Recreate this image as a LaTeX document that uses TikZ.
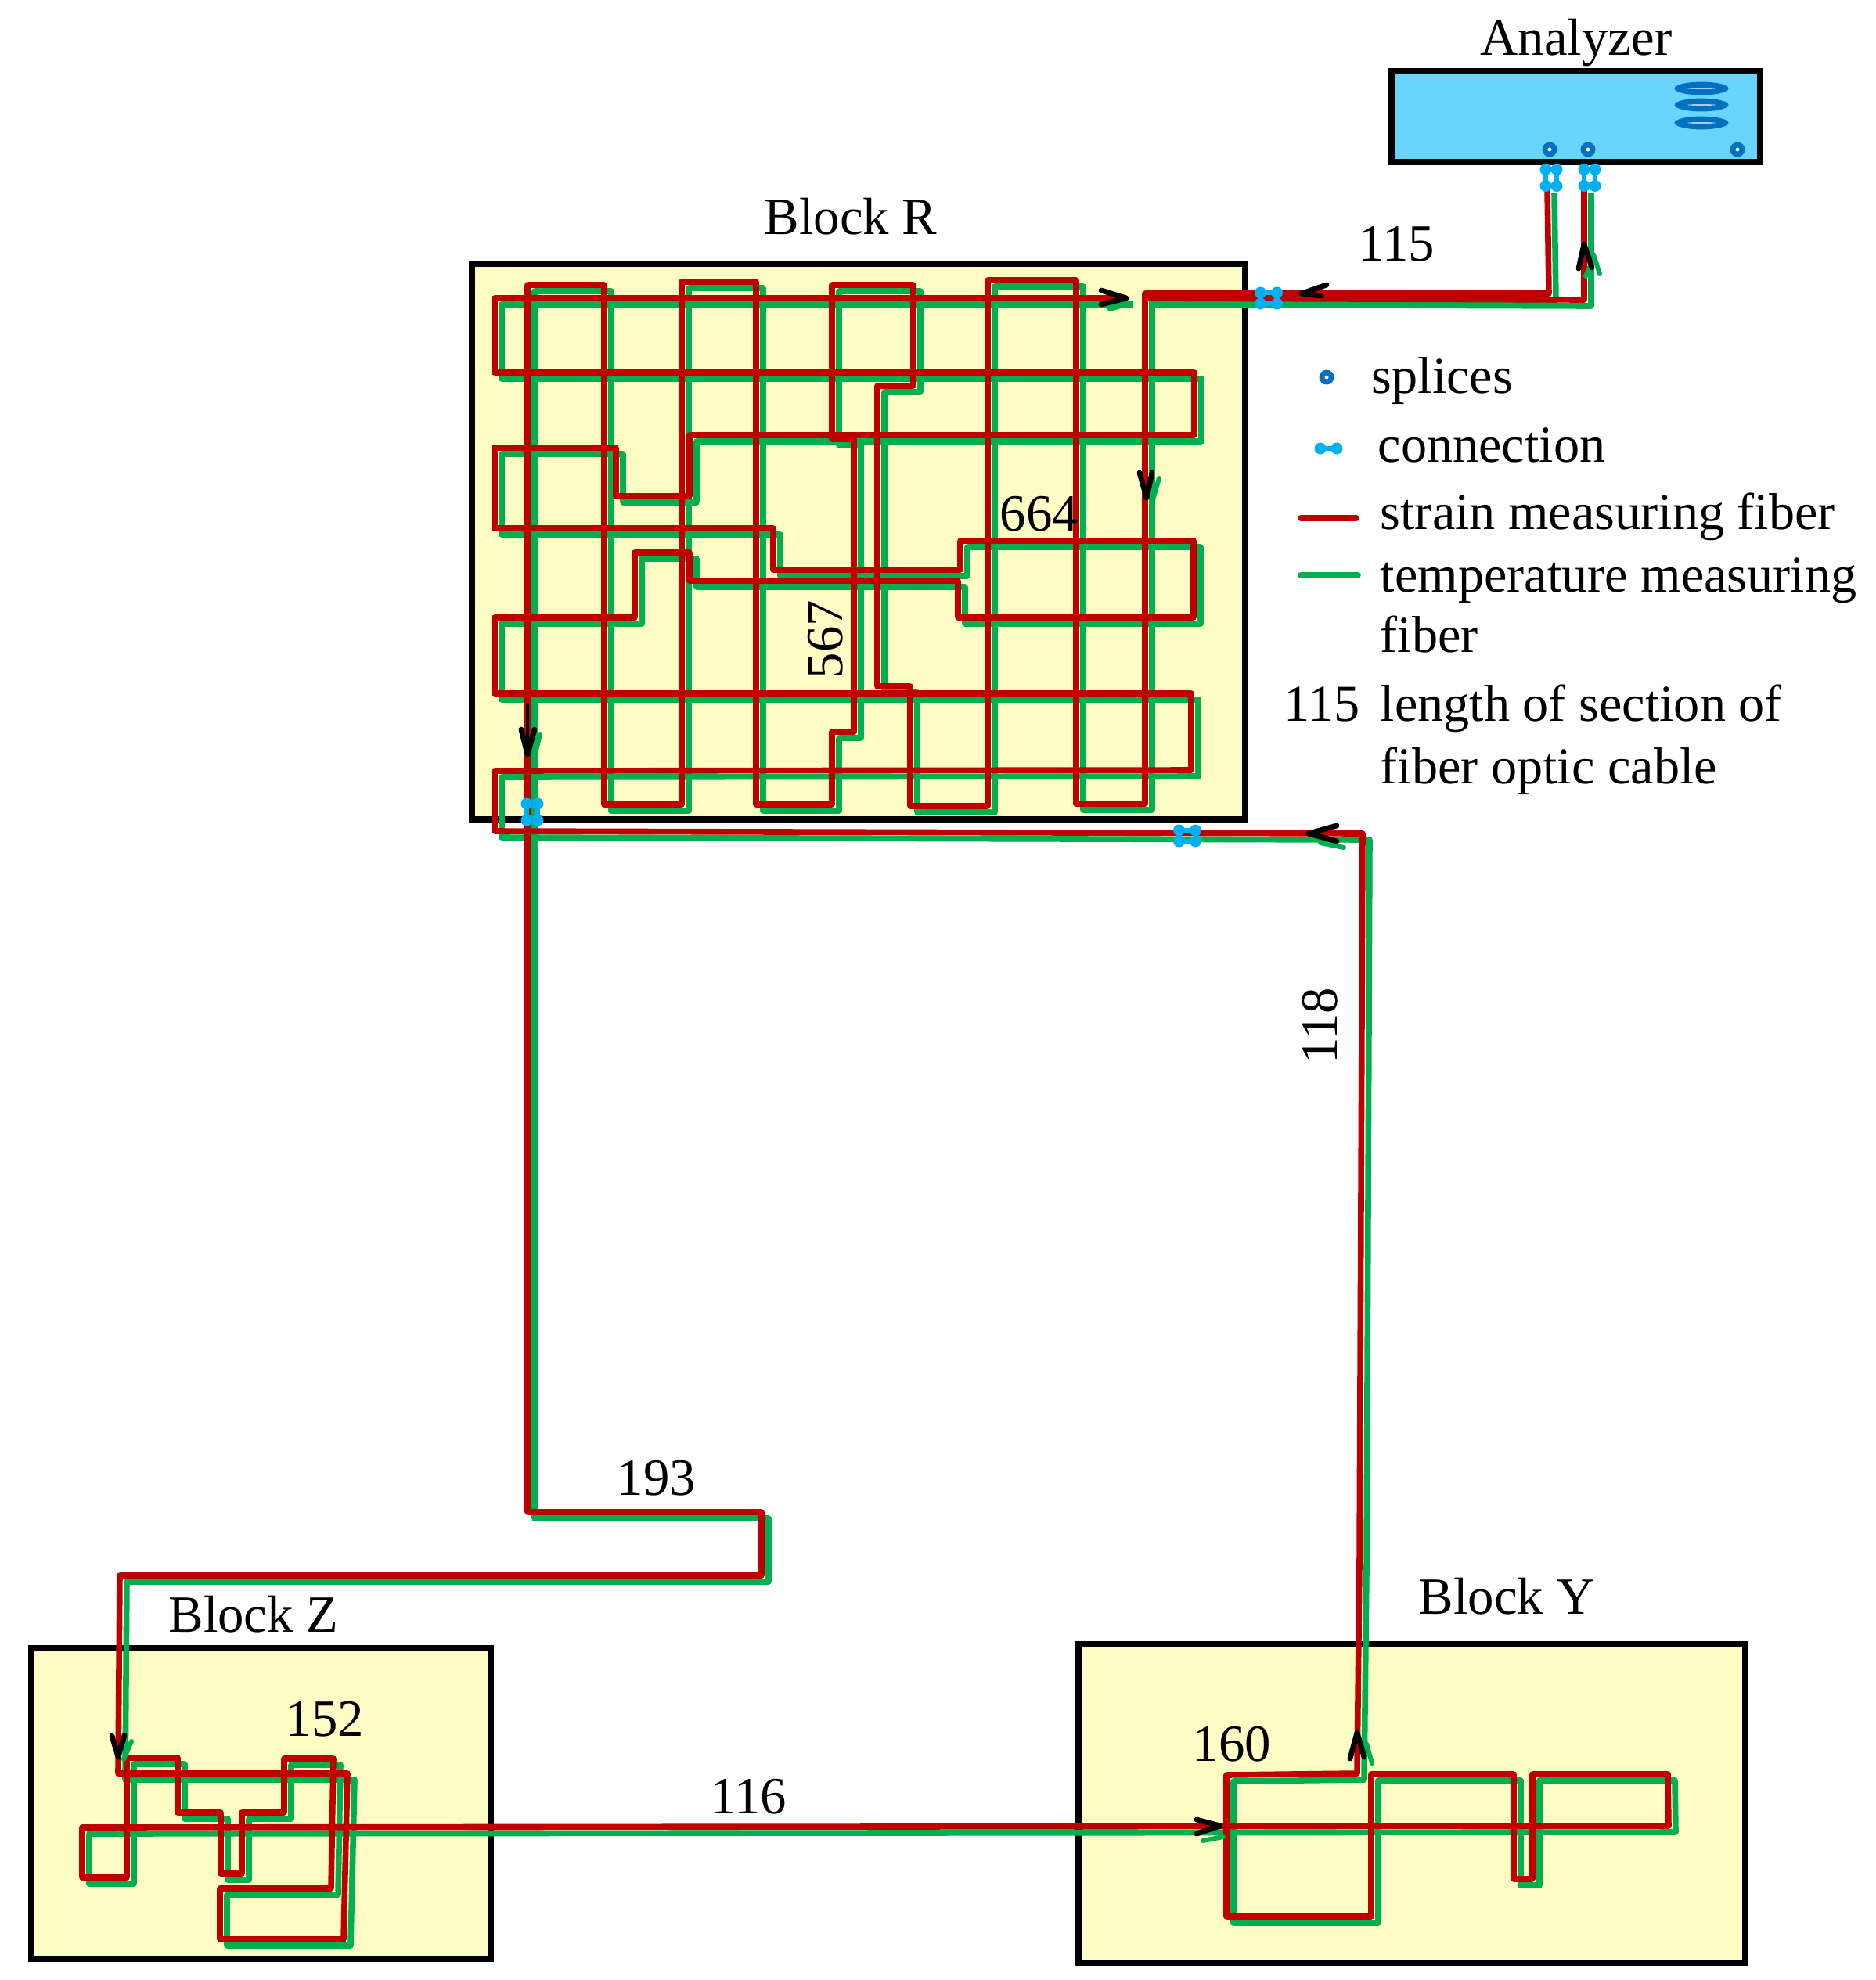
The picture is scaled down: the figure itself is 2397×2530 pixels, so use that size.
\documentclass[tikz,border=0pt]{standalone}
\usepackage{fontspec}
\setmainfont{Liberation Serif}
\usepackage{tikz}
\usetikzlibrary{shapes.geometric}

\definecolor{strainred}{HTML}{C00000}
\definecolor{tempgreen}{HTML}{00B050}
\definecolor{blockfill}{HTML}{FDFCC4}
\definecolor{analyzerfill}{HTML}{69D5FF}
\definecolor{splicecol}{HTML}{0070C0}
\definecolor{conncol}{HTML}{00B0F0}

% whole fiber loop, from the left port of the analyzer to the right one
\newcommand{\fiberloop}{
  (1977,239) -- (1979,375) -- (1463,375) -- (1463,1027) -- (1375,1027) -- (1375,358)
  -- (1262,358) -- (1262,1030) -- (1163,1030) -- (1163,877) -- (1121,877) -- (1121,493)
  -- (1167,493) -- (1167,364) -- (1063,364) -- (1063,561) -- (1091,561) -- (1091,935)
  -- (1063,935) -- (1063,1028) -- (966,1028) -- (966,360) -- (871,360) -- (871,1028)
  -- (772,1028) -- (772,364) -- (674,364) -- (674,1932) -- (973,1932) -- (973,2013)
  -- (153,2013) -- (151,2266) -- (444,2266) -- (439,2478) -- (281,2478) -- (281,2413)
  -- (423,2413) -- (426,2247) -- (363,2247) -- (363,2316) -- (309,2316) -- (309,2394)
  -- (282,2394) -- (282,2316) -- (227,2316) -- (227,2246) -- (162,2246) -- (162,2399)
  -- (105,2399) -- (105,2335) -- (2132,2333) -- (2131,2267) -- (1958,2267) -- (1958,2401)
  -- (1934,2401) -- (1934,2267) -- (1752,2267) -- (1752,2449) -- (1567,2449) -- (1567,2268)
  -- (1734,2266) -- (1737,2000) -- (1740,1300) -- (1741,1065) -- (632,1062) -- (632,985)
  -- (1522,984) -- (1522,886) -- (632,886) -- (632,789) -- (811,789) -- (811,706)
  -- (881,706) -- (881,742) -- (1224,742) -- (1224,789) -- (1525,789) -- (1525,691)
  -- (1227,691) -- (1227,728) -- (988,728) -- (988,675) -- (632,675) -- (632,572)
  -- (787,572) -- (787,634) -- (881,634) -- (881,556) -- (1526,556) -- (1526,476)
  -- (632,476) -- (632,381) -- (1439,381)
  (1461,381) -- (2024,383) -- (2024,239)
}

\tikzset{
  blockbox/.style = {draw=black, fill=blockfill, line width=2.1pt, inner sep=0pt},
  analyzerbox/.style = {draw=black, fill=analyzerfill, line width=2.2pt, inner sep=0pt},
  strainfiber/.style = {draw=strainred, line width=1.9pt, line join=round},
  tempfiber/.style = {draw=tempgreen, line width=1.9pt, line join=round},
  blackhead/.style = {draw=black, line width=1.7pt, line cap=round, line join=round},
  greenhead/.style = {draw=tempgreen, line width=1.5pt, line cap=round},
  splice/.style = {circle, draw=splicecol, fill=white, line width=1.7pt, minimum size=3pt, inner sep=0pt},
  slot/.style = {ellipse, fill=splicecol, minimum width=17.25pt, minimum height=4.2pt, inner sep=0pt},
  txt/.style = {inner sep=0pt, anchor=base, font=\fontsize{16.7}{18}\selectfont},
  legendtxt/.style = {txt, anchor=base west, font=\fontsize{16.55}{18}\selectfont},
  connv/.pic = {
    \fill[conncol] (0,-10.5) circle (7.5) (0,10.5) circle (7.5);
    \draw[conncol, line width=1.6pt] (0,-10.5) -- (0,10.5);
  },
  connh/.pic = {
    \fill[conncol] (-10.5,0) circle (7.5) (10.5,0) circle (7.5);
    \draw[conncol, line width=1.6pt] (-10.5,0) -- (10.5,0);
  }
}

\begin{document}
\begin{tikzpicture}[x=0.25pt, y=-0.25pt]
  \useasboundingbox (0,0) rectangle (2397,2530);
  % Boxes
  \node[analyzerbox, minimum width=117.75pt, minimum height=29pt] (analyzer) at (2013.5,149) {};
  \node[blockbox, minimum width=247pt, minimum height=177.5pt] (blockR) at (1097,692) {};
  \node[blockbox, minimum width=146.75pt, minimum height=99.25pt] (blockZ) at (333.5,2304.5) {};
  \node[blockbox, minimum width=213pt, minimum height=101.75pt] (blockY) at (1804,2304.5) {};
  % Analyzer details
  \node[slot] (slotA) at (2174,113) {};
  \node[slot] (slotB) at (2174,134) {};
  \node[slot] (slotC) at (2174,157) {};
  \foreach \s in {slotA,slotB,slotC}
    \fill[white] (\s.center) ellipse (18 and 0.7);
  \node[splice] (portA) at (1980,191) {};
  \node[splice] (portB) at (2029,191) {};
  \node[splice] (portC) at (2220,191) {};
  % Fibers
  \draw[tempfiber, shift={(9,8)}] \fiberloop;
  \draw[strainfiber] \fiberloop;
  % Direction marks
  \draw[greenhead] (1442,388) -- (1418,395);
  \draw[greenhead] (1481,611) -- (1472,642);
  \draw[greenhead] (690,938) -- (683,967);
  \draw[greenhead] (168,2225) -- (158,2248);
  \draw[greenhead] (1563,2347) -- (1537,2352);
  \draw[greenhead] (1746,2228) -- (1753,2253);
  \draw[greenhead] (1687,1077) -- (1717,1083);
  \draw[greenhead] (2036,325) -- (2044,350);
  \draw[greenhead] (2033,337) -- (2026,353);
  \draw[blackhead] (1407,371) -- (1439,381) -- (1407,389);
  \draw[blackhead] (1456,604) -- (1465,636) -- (1472,604);
  \draw[blackhead] (666,932) -- (674,964) -- (683,932);
  \draw[blackhead, line width=1pt] (674,900) -- (674,964);
  \draw[blackhead] (143,2218) -- (151,2245) -- (159,2217);
  \draw[blackhead] (1529,2325) -- (1559,2333) -- (1529,2343);
  \draw[blackhead] (1725,2247) -- (1734,2214) -- (1743,2245);
  \draw[blackhead] (1708,1055) -- (1672,1065) -- (1708,1075);
  \draw[blackhead] (1695,364) -- (1663,375) -- (1688,378);
  \draw[blackhead] (2017,343) -- (2024,312) -- (2034,342);
  % Connections
  \foreach \cx in {1975,1989,2024,2038}
    \pic at (\cx,227) {connv};
  \foreach \cy in {374,388}
    \pic at (1621,\cy) {connh};
  \foreach \cy in {1061,1075}
    \pic at (1517,\cy) {connh};
  \foreach \cx in {673,687}
    \pic at (\cx,1037.5) {connv};
  % Labels
  \node[txt] (analyzertext) at (2014,70) {Analyzer};
  \node[txt] (blockRtext) at (1087,299) {Block R};
  \node[txt] (blockZtext) at (324,2085) {Block Z};
  \node[txt] (blockYtext) at (1925,2062) {Block Y};
  \node[txt] (lenOut) at (1784,333) {115};
  \node[txt] (lenRa) at (1328,678) {664};
  \node[txt, rotate=90] (lenRb) at (1076,817) {567};
  \node[txt, rotate=90] (lenBack) at (1708,1311) {118};
  \node[txt] (lenDown) at (839,1910) {193};
  \node[txt] (lenZ) at (415,2218) {152};
  \node[txt] (lenZY) at (956,2317) {116};
  \node[txt] (lenY) at (1574,2250) {160};
  % Legend
  \node[splice] (legendsplice) at (1695,482) {};
  \pic at (1697.5,573) {connh};
  \coordinate (redstart) at (1662,662);
  \coordinate (redend) at (1733,662);
  \coordinate (greenstart) at (1662,735);
  \coordinate (greenend) at (1735,735);
  \draw[strainfiber, line cap=round] (redstart) -- (redend);
  \draw[tempfiber, line cap=round] (greenstart) -- (greenend);
  \node[legendtxt] (legA) at (1752,502) {splices};
  \node[legendtxt] (legB) at (1760,590) {connection};
  \node[legendtxt] (legC) at (1763,676) {strain measuring fiber};
  \node[legendtxt] (legD) at (1763,756) {temperature measuring};
  \node[legendtxt] (legE) at (1763,833) {fiber};
  \node[legendtxt] (legF) at (1640,921) {115};
  \node[legendtxt] (legG) at (1763,921) {length of section of};
  \node[legendtxt] (legH) at (1763,1001) {fiber optic cable};
\end{tikzpicture}
\end{document}
